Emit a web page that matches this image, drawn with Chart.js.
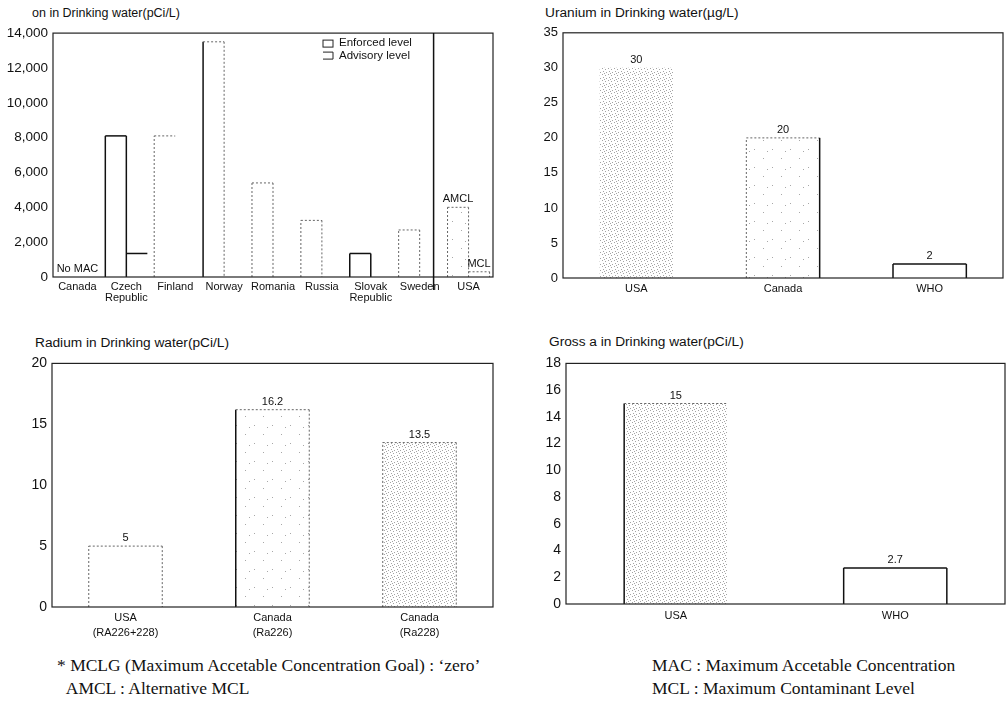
<!DOCTYPE html>
<html>
<head>
<meta charset="utf-8">
<script src="https://cdn.jsdelivr.net/npm/chart.js@4.4.0/dist/chart.umd.min.js"></script>
<style>
  body { margin: 0; background: #fff; width: 1007px; height: 707px; position: relative; overflow: hidden;
         font-family: "Liberation Sans", Arial, sans-serif; color: #111; }
  canvas { position: absolute; }
  .title { position: absolute; font-size: 13.7px; white-space: nowrap; line-height: 14px; }
  .note { position: absolute; font-family: "Liberation Serif", "Times New Roman", serif; font-size: 17.5px;
          white-space: nowrap; line-height: 23px; }
</style>
</head>
<body>
<div class="title" style="left:32px;top:6px;font-size:12.5px">on in Drinking water(pCi/L)</div>
<div class="title" style="left:545px;top:6px">Uranium in Drinking water(µg/L)</div>
<div class="title" style="left:35px;top:336px">Radium in Drinking water(pCi/L)</div>
<div class="title" style="left:549px;top:335px">Gross a in Drinking water(pCi/L)</div>

<canvas id="radon" width="500" height="290" style="left:0;top:20px"></canvas>
<canvas id="uranium" width="507" height="290" style="left:500px;top:20px"></canvas>
<canvas id="radium" width="500" height="295" style="left:0;top:350px"></canvas>
<canvas id="alpha" width="507" height="290" style="left:500px;top:350px"></canvas>

<div class="note" style="left:57px;top:654px">* MCLG (Maximum Accetable Concentration Goal) : ‘zero’<br>&nbsp;&nbsp;AMCL : Alternative MCL</div>
<div class="note" style="left:652px;top:654px">MAC : Maximum Accetable Concentration<br>MCL : Maximum Contaminant Level</div>

<script>
// radon
const radonCountries = [['Canada'], ['Czech', 'Republic'], ['Finland'], ['Norway'], ['Romania'],
                        ['Russia'], ['Slovak', 'Republic'], ['Sweden'], ['USA']];
const radonMain = [null, 8100, 8100, 13500, 5400, 3250, 1350, 2700, 4000];
const radonSecond = [null, 1350, null, null, null, null, null, null, 300];
const radonMainNotes = ['No MAC', '', '', '', '', '', '', '', 'AMCL'];
const radonSecondNotes = ['', '', '', '', '', '', '', '', 'MCL'];

// uranium
const uraniumCats = ['USA', 'Canada', 'WHO'];
const uraniumValues = [30, 20, 2];

// radium
const radiumCats = [['USA', '(RA226+228)'], ['Canada', '(Ra226)'], ['Canada', '(Ra228)']];
const radiumValues = [5, 16.2, 13.5];

// gross alpha
const alphaCats = ['USA', 'WHO'];
const alphaValues = [15, 2.7];

Chart.defaults.font.family = '"Liberation Sans", Arial, sans-serif';
Chart.defaults.color = '#111';
Chart.defaults.animation = false;

function stipple(size, dots, color) {
    const tile = document.createElement('canvas');
    tile.width = tile.height = size;
    const g = tile.getContext('2d');
    g.fillStyle = color;
    dots.forEach(d => g.fillRect(d[0], d[1], 1, 1));
    return g.createPattern(tile, 'repeat');
}
const dense = stipple(6, [[0, 0], [3, 1], [1, 3], [4, 4], [2, 5]], '#a4a4a4');
const sparse = stipple(18, [[2, 3], [11, 12], [15, 5]], '#a8a8a8');

// outline codes: left / top / right, s = solid, d = dotted, n = none
const outlines = {
    id: 'outlines',
    afterDatasetsDraw(chart) {
        const ctx = chart.ctx;
        chart.data.datasets.forEach((ds, di) => {
            if (!ds.outline) return;
            const meta = chart.getDatasetMeta(di);
            meta.data.forEach((bar, i) => {
                const code = ds.outline[i];
                if (!code || ds.data[i] == null) return;
                const l = bar.x - bar.width / 2, r = bar.x + bar.width / 2;
                const sides = [[l, bar.base, l, bar.y], [l, bar.y, r, bar.y], [r, bar.y, r, bar.base]];
                sides.forEach((s, k) => {
                    const c = code[k];
                    if (c === 'n') return;
                    ctx.save();
                    ctx.strokeStyle = c === 's' ? '#111' : '#666';
                    ctx.lineWidth = c === 's' ? 1.5 : 1;
                    ctx.setLineDash(c === 's' ? [] : [2, 2]);
                    ctx.beginPath();
                    ctx.moveTo(s[0], s[1]);
                    ctx.lineTo(s[2], s[3]);
                    ctx.stroke();
                    ctx.restore();
                });
            });
        });
    }
};

const notes = {
    id: 'notes',
    afterDatasetsDraw(chart) {
        const ctx = chart.ctx;
        ctx.save();
        ctx.font = '11px "Liberation Sans", Arial, sans-serif';
        ctx.fillStyle = '#111';
        ctx.textAlign = 'center';
        ctx.textBaseline = 'middle';
        chart.data.datasets.forEach((ds, di) => {
            if (!ds.notes) return;
            const meta = chart.getDatasetMeta(di);
            ds.notes.forEach((t, i) => {
                if (!t) return;
                let x, y;
                if (ds.data[i] == null) {
                    x = chart.scales.x.getPixelForValue(i);
                    y = chart.scales.y.getPixelForValue(0);
                } else {
                    x = meta.data[i].x;
                    y = meta.data[i].y;
                }
                ctx.fillText(t, x, y - 8);
            });
        });
        ctx.restore();
    }
};

const frame = {
    id: 'frame',
    afterDraw(chart) {
        const a = chart.chartArea, ctx = chart.ctx;
        ctx.save();
        ctx.strokeStyle = '#222';
        ctx.lineWidth = 1.2;
        ctx.strokeRect(a.left, a.top, a.right - a.left, a.bottom - a.top);
        ctx.restore();
    }
};

function axes(yMax, step, yFont, yWidth, xHeight, xPad, lineHeight) {
    return {
        x: {
            grid: { display: false, drawTicks: false },
            border: { display: false },
            ticks: { font: { size: 11, lineHeight: lineHeight }, padding: xPad, color: '#111',
                     minRotation: 0, maxRotation: 0, autoSkip: false },
            afterFit: s => { s.height = xHeight; }
        },
        y: {
            min: 0, max: yMax,
            grid: { display: false, drawTicks: false },
            border: { display: false },
            ticks: { stepSize: step, font: { size: yFont }, padding: 5, color: '#111',
                     callback: v => v.toLocaleString('en-US') },
            afterFit: s => { s.width = yWidth; }
        }
    };
}

function simpleChart(id, labels, values, fills, outline, yMax, step, yFont, yWidth, xHeight, xPad, lineHeight, barPct, padding) {
    return new Chart(document.getElementById(id), {
        type: 'bar',
        data: {
            labels: labels,
            datasets: [{
                data: values,
                backgroundColor: fills,
                borderWidth: 0,
                outline: outline,
                notes: values.map(v => String(v))
            }]
        },
        options: {
            responsive: false,
            layout: { padding: padding },
            plugins: { legend: { display: false }, tooltip: { enabled: false } },
            datasets: { bar: { barPercentage: barPct, categoryPercentage: 1 } },
            scales: axes(yMax, step, yFont, yWidth, xHeight, xPad, lineHeight)
        },
        plugins: [outlines, notes, frame]
    });
}

// radon: divider before USA and legend
const radonExtras = {
    id: 'radonExtras',
    afterDraw(chart) {
        const ctx = chart.ctx, a = chart.chartArea;
        const meta = chart.getDatasetMeta(0);
        const sweden = meta.data[7], usa = meta.data[8];
        const xDiv = ((sweden.x + sweden.width / 2) + (usa.x - usa.width / 2)) / 2;
        ctx.save();
        ctx.strokeStyle = '#111';
        ctx.lineWidth = 1.5;
        ctx.beginPath();
        ctx.moveTo(xDiv, a.top);
        ctx.lineTo(xDiv, a.bottom + 13);
        ctx.stroke();

        // legend
        const bx = a.right - 170, tx = a.right - 154;
        ctx.lineWidth = 1;
        ctx.strokeStyle = '#222';
        ctx.strokeRect(bx, a.top + 7, 10, 7);
        ctx.beginPath();
        ctx.moveTo(bx, a.top + 19);
        ctx.lineTo(bx + 10, a.top + 19);
        ctx.lineTo(bx + 10, a.top + 26);
        ctx.lineTo(bx, a.top + 26);
        ctx.stroke();
        ctx.font = '11.5px "Liberation Sans", Arial, sans-serif';
        ctx.fillStyle = '#111';
        ctx.textBaseline = 'middle';
        ctx.fillText('Enforced level', tx, a.top + 10);
        ctx.fillText('Advisory level', tx, a.top + 23);
        ctx.restore();
    }
};

new Chart(document.getElementById('radon'), {
    type: 'bar',
    data: {
        labels: radonCountries,
        datasets: [{
            label: 'Main level',
            data: radonMain,
            backgroundColor: ['transparent', 'transparent', 'transparent', 'transparent', 'transparent',
                              'transparent', 'transparent', 'transparent', sparse],
            borderWidth: 0,
            outline: [null, 'sss', 'ddn', 'sdd', 'ddd', 'ddd', 'sss', 'ddd', 'ddd'],
            notes: radonMainNotes
        }, {
            label: 'Second level',
            data: radonSecond,
            backgroundColor: 'transparent',
            borderWidth: 0,
            outline: [null, 'nsn', null, null, null, null, null, null, 'ndd'],
            notes: radonSecondNotes
        }]
    },
    options: {
        responsive: false,
        layout: { padding: { top: 10, right: 7 } },
        plugins: { legend: { display: false }, tooltip: { enabled: false } },
        datasets: { bar: { barPercentage: 1, categoryPercentage: 0.86 } },
        scales: axes(14000, 2000, 13.5, 53, 33, 4, 1.05)
    },
    plugins: [outlines, notes, frame, radonExtras]
});

simpleChart('uranium', uraniumCats, uraniumValues, [dense, sparse, 'transparent'],
            ['nnn', 'dds', 'sss'], 35, 5, 13, 63, 32, 4, 1.2, 0.5, { top: 10, right: 4 });

simpleChart('radium', radiumCats, radiumValues, ['transparent', sparse, dense],
            ['ddd', 'sdd', 'ddd'], 20, 5, 14, 52, 38, 4, 1.35, 0.5, { top: 12, right: 7 });

simpleChart('alpha', alphaCats, alphaValues, [dense, 'transparent'],
            ['sdn', 'sss'], 18, 2, 14, 66, 36, 5, 1.2, 0.47, { top: 9, right: 2 });
</script>
</body>
</html>
